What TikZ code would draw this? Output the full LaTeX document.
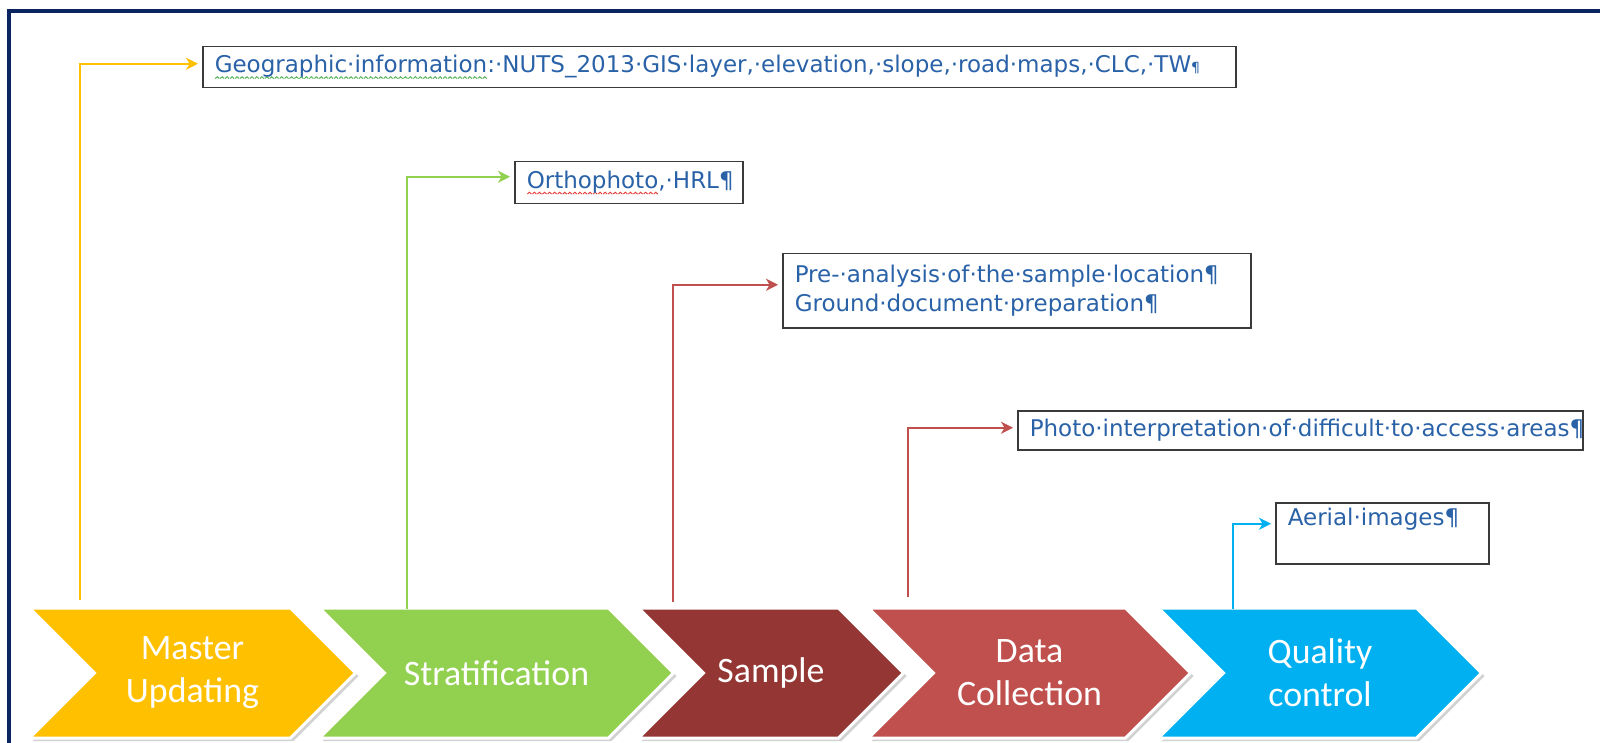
\documentclass[tikz,border=0pt]{standalone}
\usepackage{fontspec}
\setmainfont{DejaVu Sans}
\newfontfamily\chevfont{Carlito}
\usetikzlibrary{arrows.meta,shapes.symbols,shadows}
\definecolor{cYel}{HTML}{FFC000}
\definecolor{cGrn}{HTML}{92D050}
\definecolor{cSmp}{HTML}{943634}
\definecolor{cDat}{HTML}{C0504D}
\definecolor{cQua}{HTML}{00B0F0}
\definecolor{cNavy}{HTML}{0B2560}
\definecolor{cTxt}{HTML}{2A62A8}
\definecolor{cBox}{HTML}{3A3A3A}
\definecolor{wGrn}{HTML}{4CAF50}
\definecolor{wRed}{HTML}{E53935}
\newcommand\wavy[2]{%
  \setbox0\hbox{#2}%
  \rlap{\raisebox{-3pt}{\hbox to \wd0{\xleaders\hbox{\tikz[x=1pt,y=1pt]\draw[#1,line width=0.45pt] (0,0)--(1,0.9)--(2,0);}\hfil}}}%
  \box0}
\begin{document}
\begin{tikzpicture}[x=0.5pt,y=-0.5pt,
  chev/.style={signal, signal to=east, signal from=west, signal pointer angle=90,
    minimum height=65pt, inner sep=0pt, draw=white, line width=1.5pt,
    drop shadow={opacity=0.35,shadow xshift=1.5pt,shadow yshift=-1.5pt},
    text=white, font=\chevfont\fontsize{17.9}{21.5}\selectfont, align=center},
  infobox/.style={draw=cBox, line width=0.75pt, anchor=north west, align=left,
    text=cTxt, font=\fontsize{11.5}{14.5}\selectfont, inner xsep=6pt, inner ysep=0pt},
  conn/.style={line width=1pt, -{Stealth[length=6pt,width=6pt,inset=1.8pt]}, shorten >=2pt},
]
\useasboundingbox (0,0) rectangle (1600,743);
\clip (0,0) rectangle (1600,743);
\fill[white] (0,0) rectangle (1600,743);
\draw[cNavy, line width=2pt] (9,11) rectangle (1620,770);

% chevrons
\node[chev, fill=cYel, minimum width=163pt]   (c1) at (192.5,673) {Master\\Updating};
\node[chev, fill=cGrn, minimum width=177pt]   (c2) at (496.5,673) {Stratification};
\node[chev, fill=cSmp, minimum width=132.5pt] (c3) at (771,673)   {Sample};
\node[chev, fill=cDat, minimum width=161pt]   (c4) at (1029.5,673) {Data\\Collection};
\node[chev, fill=cQua, minimum width=161.5pt] (c5) at (1320,673)  {Quality\\control};

% boxes
\node[infobox, text width=504.5pt, minimum height=20.5pt] (b1) at (202,46)
  {\wavy{wGrn}{Geographic·information}:·NUTS\_2013·GIS·layer,·elevation,·slope,·road·maps,·CLC,·TW{\fontsize{7}{7}\selectfont ¶}};
\node[infobox, text width=102pt, minimum height=21pt] (b2) at (514,161)
  {\wavy{wRed}{Orthophoto},·HRL¶};
\node[infobox, text width=222pt, minimum height=37pt] (b3) at (782,253)
  {Pre-·analysis·of·the·sample·location¶\\Ground·document·preparation¶};
\node[infobox, text width=270.5pt, minimum height=19.5pt] (b4) at (1017,410)
  {Photo·interpretation·of·difficult·to·access·areas¶};
\node[infobox, text width=94.5pt, text height=11.5pt, text depth=19pt] (b5) at (1275,502)
  {Aerial·images¶};

% connector start points
\coordinate (s1) at (80,600);
\coordinate (s2) at (407,609);
\coordinate (s3) at (673,602);
\coordinate (s4) at (908,597);
\coordinate (s5) at (1233,609);

\draw[conn, cYel] (s1) |- ([yshift=1.75pt]b1.west);
\draw[conn, cGrn] (s2) |- ([yshift=3pt]b2.west);
\draw[conn, cDat] (s3) |- ([yshift=3pt]b3.west);
\draw[conn, cDat] (s4) |- ([yshift=1.25pt]b4.west);
\draw[conn, cQua] (s5) |- ([yshift=4.75pt]b5.west);
\end{tikzpicture}
\end{document}
